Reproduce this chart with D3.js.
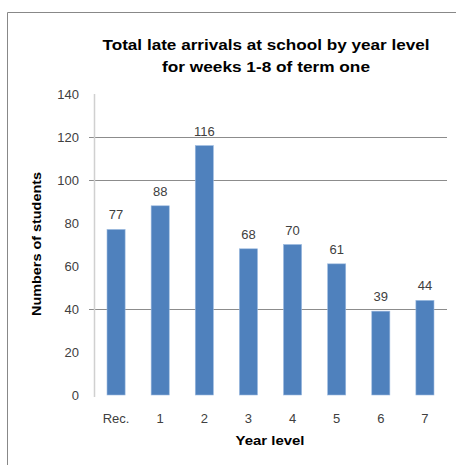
<!DOCTYPE html>
<html><head><meta charset="utf-8">
<script src="https://cdn.jsdelivr.net/npm/d3@7"></script>
<style>body{margin:0;background:#fff;} svg{display:block;}</style>
</head><body>
<script>
const categories = ["Rec.", "1", "2", "3", "4", "5", "6", "7"];
const values = [77, 88, 116, 68, 70, 61, 39, 44];
const yTicks = [0, 20, 40, 60, 80, 100, 120, 140];
const gridValues = [40, 100, 120];
const titleLines = ["Total late arrivals at school by year level", "for weeks 1-8 of term one"];
const titleWidths = [327, 208];

const W = 456, H = 465;
const svg = d3.select("body").append("svg").attr("width", W).attr("height", H);
const font = "'Liberation Sans', Arial, sans-serif";

// frame
svg.append("path").attr("d", `M7.5,${H} L7.5,12.5 L${W},12.5`).attr("fill", "none").attr("stroke", "#888").attr("stroke-width", 1);

const x0 = 94, x1 = 447, yTop = 94, yBot = 395;
const x = d3.scaleBand().domain(categories).range([x0, x1]).paddingInner(0.59).paddingOuter(0.295);
const y = d3.scaleLinear().domain([0, 140]).range([yBot, yTop]);

// gridlines
svg.append("g").selectAll("line").data(gridValues).join("line")
  .attr("x1", x0 - 5).attr("x2", x1).attr("y1", d => Math.round(y(d)) + 0.5).attr("y2", d => Math.round(y(d)) + 0.5)
  .attr("stroke", "#8c8c8c").attr("stroke-width", 1);

// y axis line
svg.append("line").attr("x1", x0 + 0.5).attr("x2", x0 + 0.5).attr("y1", yTop).attr("y2", yBot + 2)
  .attr("stroke", "#d0d0d0").attr("stroke-width", 1.5);

// y tick labels
svg.append("g").selectAll("text").data(yTicks).join("text")
  .attr("x", 79).attr("y", d => y(d)).attr("dy", "0.35em").attr("text-anchor", "end")
  .attr("font-family", font).attr("font-size", 13).attr("fill", "#404040").text(d => d);

// bars
svg.append("g").selectAll("rect").data(values).join("rect")
  .attr("x", (d, i) => x(categories[i])).attr("width", x.bandwidth())
  .attr("y", d => y(d)).attr("height", d => y(0) - y(d))
  .attr("fill", "#4F81BD").attr("stroke", "#9bb9df").attr("stroke-width", 0.6);

// value labels
svg.append("g").selectAll("text").data(values).join("text")
  .attr("x", (d, i) => x(categories[i]) + x.bandwidth() / 2).attr("y", d => y(d) - 10)
  .attr("text-anchor", "middle").attr("font-family", font).attr("font-size", 13).attr("fill", "#404040").text(d => d);

// x tick labels
svg.append("g").selectAll("text").data(categories).join("text")
  .attr("x", d => x(d) + x.bandwidth() / 2).attr("y", 423).attr("text-anchor", "middle")
  .attr("font-family", font).attr("font-size", 13).attr("fill", "#404040").text(d => d);

// title
svg.append("g").selectAll("text").data(titleLines).join("text")
  .attr("x", 266).attr("y", (d, i) => 50 + i * 22).attr("text-anchor", "middle")
  .attr("textLength", (d, i) => titleWidths[i]).attr("lengthAdjust", "spacingAndGlyphs")
  .attr("font-family", font).attr("font-weight", "bold").attr("font-size", 15).attr("fill", "#000").text(d => d);

// axis titles
svg.append("text").attr("x", 270).attr("y", 445).attr("text-anchor", "middle")
  .attr("textLength", 69).attr("lengthAdjust", "spacingAndGlyphs")
  .attr("font-family", font).attr("font-weight", "bold").attr("font-size", 13).text("Year level");
svg.append("text").attr("transform", "translate(41,244) rotate(-90)").attr("text-anchor", "middle")
  .attr("textLength", 144).attr("lengthAdjust", "spacingAndGlyphs")
  .attr("font-family", font).attr("font-weight", "bold").attr("font-size", 13).text("Numbers of students");
</script>
</body></html>
